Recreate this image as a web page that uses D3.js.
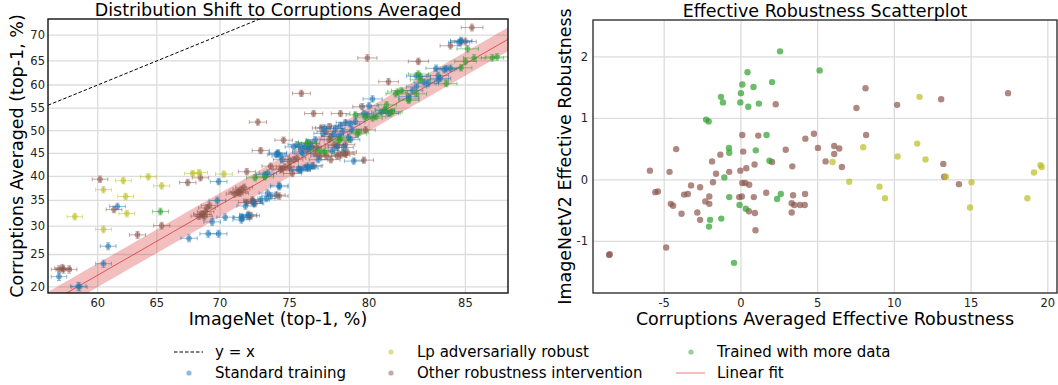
<!DOCTYPE html>
<html>
<head>
<meta charset="utf-8">
<script src="https://cdnjs.cloudflare.com/ajax/libs/d3/7.8.5/d3.min.js"></script>
<style>
  body { margin: 0; background: #fff; }
  svg { font-family: 'DejaVu Sans', sans-serif; }
</style>
</head>
<body>
<svg id="chart" width="1058" height="385"></svg>
<script>
// ---- left panel: [ImageNet top-1 %, Corruptions averaged top-1 %]
const standardTraining = [
  [56.6, 21.5], [58.3, 20.1], [58.4, 20.0], [60.5, 23.5], [60.9, 26.4], [61.7, 33.8],
  [67.6, 27.8], [69.1, 28.6], [69.9, 28.6], [69.4, 30.8], [69.8, 35.0], [69.9, 38.9],
  [70.4, 31.7], [71.6, 31.7], [71.7, 31.6], [71.6, 31.2], [71.9, 33.9], [72.1, 32.2],
  [72.5, 34.4], [73.0, 35.1], [73.5, 36.5], [73.4, 35.4], [73.7, 35.9], [74.3, 37.8],
  [73.5, 40.7], [73.3, 40.4], [74.2, 44.9], [74.5, 43.6], [74.3, 38.1],
  [75.5, 46.9], [75.8, 45.3], [75.9, 45.0], [75.6, 41.4], [75.8, 41.4], [76.1, 41.8],
  [76.3, 41.8], [76.5, 42.2], [76.2, 42.2], [75.7, 41.4],
  [77.3, 50.6], [77.2, 49.4], [76.7, 48.0], [76.4, 47.2], [76.3, 46.1], [76.0, 46.4],
  [75.7, 46.6], [75.3, 46.4], [74.2, 45.1], [74.1, 44.7], [74.4, 44.4], [76.9, 43.6],
  [79.1, 43.3], [78.1, 46.3], [78.5, 46.3], [77.8, 45.5], [78.8, 48.5], [78.9, 48.0],
  [78.0, 50.5], [78.3, 51.2], [78.6, 51.8], [78.9, 51.5], [79.2, 52.0], [78.4, 49.8],
  [77.9, 49.2], [79.0, 50.2], [78.2, 48.8],
  [79.7, 53.8], [79.9, 53.5], [80.2, 57.0], [80.0, 55.5], [80.7, 54.1], [80.9, 54.5],
  [81.1, 53.8], [82.6, 59.6], [82.4, 58.8], [82.2, 57.0], [82.2, 57.5], [82.6, 61.9],
  [82.8, 61.8], [83.0, 60.6], [83.2, 60.3], [83.6, 63.5], [83.7, 62.0], [83.8, 61.4],
  [83.7, 61.1], [84.3, 63.5], [84.1, 63.4], [84.0, 63.2], [84.8, 69.0], [84.7, 68.6]
];
const lpAdversarial = [
  [58.0, 31.8], [60.5, 37.2], [60.5, 29.4], [62.2, 39.1], [62.4, 35.8], [62.5, 32.4],
  [64.3, 39.9], [65.4, 38.0], [67.9, 40.6], [68.4, 40.8], [70.3, 40.5]
];
const otherIntervention = [
  [56.6, 22.6], [57.0, 22.6], [57.5, 22.6], [56.9, 22.8], [60.2, 39.4], [61.4, 33.2],
  [63.4, 28.4], [65.4, 30.1], [67.5, 38.7], [68.5, 39.7],
  [68.7, 32.2], [68.4, 31.9], [68.9, 32.8], [68.6, 32.3], [69.2, 34.0], [68.8, 31.8],
  [69.0, 33.5], [71.3, 36.6], [71.1, 36.3], [71.4, 36.8], [71.6, 37.3], [71.8, 37.7],
  [71.5, 36.5], [72.0, 41.0], [72.4, 34.8], [72.0, 34.6], [72.5, 34.8], [72.6, 34.4],
  [72.4, 35.1], [72.1, 31.9], [72.3, 32.0],
  [72.8, 51.9], [73.0, 45.6], [73.7, 42.2], [74.4, 41.4], [75.0, 42.0], [75.3, 43.6],
  [75.5, 44.0], [75.2, 40.6], [74.1, 36.1], [74.3, 35.9], [74.6, 47.9],
  [75.0, 43.2], [74.7, 42.0], [74.5, 41.6], [75.8, 58.2], [76.6, 53.8], [76.6, 42.3],
  [77.6, 50.9], [77.1, 50.6], [77.4, 49.8], [77.7, 48.7], [77.6, 48.0], [76.5, 46.4],
  [76.8, 46.4], [76.2, 45.8], [76.7, 44.9], [77.0, 44.4], [77.4, 44.4], [77.7, 43.6],
  [78.1, 44.4], [78.5, 45.1], [78.7, 45.3], [77.9, 46.9], [78.1, 46.7], [78.6, 46.9],
  [78.3, 44.6], [78.6, 44.8], [79.7, 43.5],
  [78.3, 53.8], [79.6, 55.3], [79.8, 50.2], [79.9, 65.6], [81.1, 60.7], [82.7, 64.9],
  [84.3, 68.0], [85.0, 68.8], [84.8, 68.8], [85.3, 71.4]
];
const moreData = [
  [65.3, 32.8], [72.6, 39.7], [73.3, 39.9], [76.2, 47.4], [77.0, 45.6], [78.2, 47.8],
  [76.2, 47.2], [77.3, 45.3], [78.3, 48.2], [79.4, 49.7], [79.3, 49.3], [80.4, 53.1],
  [80.2, 52.8], [79.2, 53.5], [79.8, 53.0], [81.0, 55.7], [81.2, 53.9], [81.3, 54.2],
  [80.9, 54.6], [81.8, 58.8], [81.6, 58.5], [81.5, 58.1], [82.2, 56.7], [82.6, 58.1],
  [82.8, 61.1], [82.7, 62.3], [84.1, 60.3], [84.8, 63.6], [85.0, 64.9], [85.4, 65.6],
  [86.4, 65.8], [86.2, 65.6], [85.1, 67.4]
];
// linear fit in logit space: logit(y) = slope * logit(x) + intercept
const fitSlope = 1.4113;
const fitIntercept = -1.8545;
const fitBand = 0.105;      // half-width of shaded band, logit units
const ciSamples = 20000;    // sample count used for the binomial error bars

const leftXTicks = [60, 65, 70, 75, 80, 85];
const leftYTicks = [20, 25, 30, 35, 40, 45, 50, 55, 60, 65, 70];

// ---- right panel: [Corruptions averaged eff. robustness, ImageNetV2 eff. robustness]
const erMoreData = [
  [2.55, 2.09], [5.13, 1.78], [0.43, 1.75], [2.03, 1.59], [0.09, 1.55], [0.82, 1.51],
  [0.0, 1.41], [-1.30, 1.35], [-1.17, 1.26], [-0.04, 1.26], [0.48, 1.19], [1.17, 1.24],
  [-2.27, 0.98], [-2.10, 0.95], [1.67, 0.73], [-0.78, 0.52], [-0.76, 0.44], [0.97, 0.48],
  [1.86, 0.31], [-1.08, 0.04], [2.60, -0.23], [2.36, -0.31], [-0.76, -0.28], [-0.09, -0.41],
  [0.32, -0.47], [-1.28, -0.63], [-2.01, -0.65], [-2.08, -0.76], [-0.45, -1.35]
];
const erOther = [
  [2.27, 1.23], [8.12, 1.49], [7.53, 1.17], [8.16, 0.73], [0.09, 0.73], [1.13, 0.72],
  [4.76, 0.75], [4.20, 0.67], [5.02, 0.52], [6.08, 0.55], [6.41, 0.51], [6.08, 0.42],
  [5.52, 0.30], [6.58, 0.21], [2.92, 0.49], [-4.22, 0.50], [-1.34, 0.41], [0.15, 0.46],
  [-1.88, 0.30], [0.89, 0.25], [0.35, 0.19], [-0.04, 0.15], [-0.76, 0.13], [-1.62, 0.10],
  [2.03, 0.29], [3.35, 0.22], [-5.93, 0.15], [-4.65, 0.13], [-1.82, -0.04], [0.09, -0.05],
  [0.28, -0.05], [0.54, -0.08], [-3.25, -0.09], [-2.66, -0.12], [-5.58, -0.20], [-5.41, -0.19],
  [-3.70, -0.24], [-3.46, -0.23], [-2.06, -0.27], [-2.32, -0.35], [-2.06, -0.39], [-0.11, -0.28],
  [0.06, -0.27], [0.84, -0.28], [1.65, -0.21], [3.40, -0.25], [4.18, -0.23], [3.31, -0.38],
  [3.48, -0.41], [3.85, -0.41], [4.16, -0.41], [3.31, -0.53], [-4.57, -0.39], [-4.42, -0.42],
  [-3.87, -0.55], [-2.84, -0.53], [-2.66, -0.65], [0.52, -0.51], [0.91, -0.54], [0.95, -0.82],
  [-4.87, -1.10], [-8.59, -1.22], [-8.55, -1.21],
  [10.18, 1.22], [13.05, 1.31], [17.41, 1.41], [13.19, 0.26], [13.25, 0.05], [14.21, -0.07]
];
const erLp = [
  [7.97, 0.53], [5.97, 0.29], [7.06, -0.03], [9.03, -0.11], [9.39, -0.30],
  [11.64, 1.35], [11.49, 0.59], [10.21, 0.38], [12.03, 0.33], [13.36, 0.05], [15.03, -0.04],
  [19.52, 0.24], [19.60, 0.21], [19.10, 0.12], [18.67, -0.30], [14.93, -0.45]
];
const rightXTicks = [-5, 0, 5, 10, 15, 20];
const rightYTicks = [-1, 0, 1, 2];

const colors = {
  standard: '#1f77b4',
  lp: '#bcbd22',
  other: '#8c564b',
  more: '#2ca02c',
  fit: '#d62728'
};

const legendItems = [
  { label: 'y = x', kind: 'dash' },
  { label: 'Standard training', kind: 'dot', color: colors.standard },
  { label: 'Lp adversarially robust', kind: 'dot', color: colors.lp },
  { label: 'Other robustness intervention', kind: 'dot', color: colors.other },
  { label: 'Trained with more data', kind: 'dot', color: colors.more },
  { label: 'Linear fit', kind: 'line', color: colors.fit }
];

const logit = (p) => Math.log(p / (1 - p));
const svg = d3.select('#chart');
const gridColor = '#dcdcdc';

// ================= left panel =================
const L = { left: 48, right: 508, top: 19, bottom: 293 };
const xL = d3.scaleLinear().domain([logit(0.5562), logit(0.8686)]).range([L.left, L.right]);
const yL = d3.scaleLinear().domain([logit(0.1915), logit(0.7293)]).range([L.bottom, L.top]);
const px = (v) => xL(logit(v / 100));
const py = (v) => yL(logit(v / 100));

svg.append('defs').append('clipPath').attr('id', 'clipL')
  .append('rect').attr('x', L.left).attr('y', L.top)
  .attr('width', L.right - L.left).attr('height', L.bottom - L.top);

const gL = svg.append('g');
gL.append('g').selectAll('line').data(leftXTicks).enter().append('line')
  .attr('x1', (d) => px(d)).attr('x2', (d) => px(d))
  .attr('y1', L.top).attr('y2', L.bottom)
  .attr('stroke', gridColor).attr('stroke-width', 1.3);
gL.append('g').selectAll('line').data(leftYTicks).enter().append('line')
  .attr('y1', (d) => py(d)).attr('y2', (d) => py(d))
  .attr('x1', L.left).attr('x2', L.right)
  .attr('stroke', gridColor).attr('stroke-width', 1.3);

const plotL = gL.append('g').attr('clip-path', 'url(#clipL)');

// y = x
const lx = xL.domain();
plotL.append('line')
  .attr('x1', xL(lx[0])).attr('y1', yL(lx[0]))
  .attr('x2', xL(lx[1])).attr('y2', yL(lx[1]))
  .attr('stroke', '#000').attr('stroke-width', 1).attr('stroke-dasharray', '3.5,2');

// fit band + line
const fitX = d3.range(0, 41).map((i) => lx[0] + (lx[1] - lx[0]) * i / 40);
plotL.append('path')
  .datum(fitX)
  .attr('d', d3.area()
    .x((d) => xL(d))
    .y0((d) => yL(fitSlope * d + fitIntercept - fitBand))
    .y1((d) => yL(fitSlope * d + fitIntercept + fitBand)))
  .attr('fill', colors.fit).attr('fill-opacity', 0.3);
plotL.append('line')
  .attr('x1', xL(lx[0])).attr('y1', yL(fitSlope * lx[0] + fitIntercept))
  .attr('x2', xL(lx[1])).attr('y2', yL(fitSlope * lx[1] + fitIntercept))
  .attr('stroke', colors.fit).attr('stroke-width', 1).attr('stroke-opacity', 0.7);

function ci(p) {
  // binomial 95% interval, returned in percent
  const q = p / 100;
  const h = 1.96 * Math.sqrt(q * (1 - q) / ciSamples);
  return [100 * (q - h), 100 * (q + h)];
}

function drawErrorPoints(data, color) {
  const g = plotL.append('g');
  const pts = g.selectAll('g').data(data).enter().append('g');
  const cap = 2;
  pts.each(function (d) {
    const s = d3.select(this);
    const [x0, x1] = ci(d[0]);
    const [y0, y1] = ci(d[1]);
    const cx = px(d[0]), cy = py(d[1]);
    const eb = s.append('g').attr('stroke', color).attr('stroke-opacity', 0.5).attr('stroke-width', 1);
    eb.append('line').attr('x1', px(x0)).attr('x2', px(x1)).attr('y1', cy).attr('y2', cy);
    eb.append('line').attr('x1', px(x0)).attr('x2', px(x0)).attr('y1', cy - cap).attr('y2', cy + cap);
    eb.append('line').attr('x1', px(x1)).attr('x2', px(x1)).attr('y1', cy - cap).attr('y2', cy + cap);
    eb.append('line').attr('x1', cx).attr('x2', cx).attr('y1', py(y0)).attr('y2', py(y1));
    eb.append('line').attr('x1', cx - cap).attr('x2', cx + cap).attr('y1', py(y0)).attr('y2', py(y0));
    eb.append('line').attr('x1', cx - cap).attr('x2', cx + cap).attr('y1', py(y1)).attr('y2', py(y1));
    s.append('circle').attr('cx', cx).attr('cy', cy).attr('r', 2.8)
      .attr('fill', color).attr('fill-opacity', 0.6);
  });
}
drawErrorPoints(otherIntervention, colors.other);
drawErrorPoints(lpAdversarial, colors.lp);
drawErrorPoints(standardTraining, colors.standard);
drawErrorPoints(moreData, colors.more);

gL.append('rect').attr('x', L.left).attr('y', L.top)
  .attr('width', L.right - L.left).attr('height', L.bottom - L.top)
  .attr('fill', 'none').attr('stroke', '#111').attr('stroke-width', 1.4);

gL.append('g').selectAll('text').data(leftXTicks).enter().append('text')
  .attr('x', (d) => px(d)).attr('y', L.bottom + 14)
  .attr('text-anchor', 'middle').attr('font-size', 11.5).attr('fill', '#222')
  .text((d) => d);
gL.append('g').selectAll('text').data(leftYTicks).enter().append('text')
  .attr('x', L.left - 3).attr('y', (d) => py(d) + 4)
  .attr('text-anchor', 'end').attr('font-size', 11.5).attr('fill', '#222')
  .text((d) => d);

gL.append('text').attr('x', (L.left + L.right) / 2).attr('y', 15.5)
  .attr('text-anchor', 'middle').attr('font-size', 17.5)
  .text('Distribution Shift to Corruptions Averaged');
gL.append('text').attr('x', (L.left + L.right) / 2).attr('y', 325)
  .attr('text-anchor', 'middle').attr('font-size', 17.5)
  .text('ImageNet (top-1, %)');
gL.append('text').attr('transform', `translate(23, ${(L.top + L.bottom) / 2}) rotate(-90)`)
  .attr('text-anchor', 'middle').attr('font-size', 17.5)
  .text('Corruptions Averaged (top-1, %)');

// ================= right panel =================
const R = { left: 593, right: 1057, top: 20, bottom: 293 };
const xR = d3.scaleLinear().domain([-9.64, 20.6]).range([R.left, R.right]);
const yR = d3.scaleLinear().domain([-1.84, 2.6]).range([R.bottom, R.top]);

const gR = svg.append('g');
gR.append('g').selectAll('line').data(rightXTicks).enter().append('line')
  .attr('x1', (d) => xR(d)).attr('x2', (d) => xR(d))
  .attr('y1', R.top).attr('y2', R.bottom)
  .attr('stroke', gridColor).attr('stroke-width', 1.3);
gR.append('g').selectAll('line').data(rightYTicks).enter().append('line')
  .attr('y1', (d) => yR(d)).attr('y2', (d) => yR(d))
  .attr('x1', R.left).attr('x2', R.right)
  .attr('stroke', gridColor).attr('stroke-width', 1.3);

function drawDots(data, color) {
  gR.append('g').selectAll('circle').data(data).enter().append('circle')
    .attr('cx', (d) => xR(d[0])).attr('cy', (d) => yR(d[1])).attr('r', 3.2)
    .attr('fill', color).attr('fill-opacity', 0.7);
}
drawDots(erOther, colors.other);
drawDots(erLp, colors.lp);
drawDots(erMoreData, colors.more);

gR.append('rect').attr('x', R.left).attr('y', R.top)
  .attr('width', R.right - R.left).attr('height', R.bottom - R.top)
  .attr('fill', 'none').attr('stroke', '#222').attr('stroke-width', 1.3);

gR.append('g').selectAll('text').data(rightXTicks).enter().append('text')
  .attr('x', (d) => xR(d)).attr('y', R.bottom + 14)
  .attr('text-anchor', 'middle').attr('font-size', 11.5).attr('fill', '#222')
  .text((d) => d);
gR.append('g').selectAll('text').data(rightYTicks).enter().append('text')
  .attr('x', R.left - 5).attr('y', (d) => yR(d) + 4)
  .attr('text-anchor', 'end').attr('font-size', 11.5).attr('fill', '#222')
  .text((d) => d);

gR.append('text').attr('x', (R.left + R.right) / 2).attr('y', 16.5)
  .attr('text-anchor', 'middle').attr('font-size', 17.5)
  .text('Effective Robustness Scatterplot');
gR.append('text').attr('x', (R.left + R.right) / 2).attr('y', 325)
  .attr('text-anchor', 'middle').attr('font-size', 17.5)
  .text('Corruptions Averaged Effective Robustness');
gR.append('text').attr('transform', `translate(571, ${(R.top + R.bottom) / 2}) rotate(-90)`)
  .attr('text-anchor', 'middle').attr('font-size', 17.5)
  .text('ImageNetV2 Effective Robustness');

// ================= legend =================
const legend = svg.append('g').attr('font-size', 15);
const colX = [174, 376, 676];
const rowY = [352, 373];
legendItems.forEach((item, i) => {
  const g = legend.append('g')
    .attr('transform', `translate(${colX[Math.floor(i / 2)]}, ${rowY[i % 2]})`);
  if (item.kind === 'dash') {
    g.append('line').attr('x1', 0).attr('x2', 29).attr('y1', 0).attr('y2', 0)
      .attr('stroke', '#000').attr('stroke-width', 1).attr('stroke-dasharray', '3.5,2');
  } else if (item.kind === 'line') {
    g.append('line').attr('x1', 0).attr('x2', 29).attr('y1', 0).attr('y2', 0)
      .attr('stroke', item.color).attr('stroke-opacity', 0.5).attr('stroke-width', 1.2);
  } else {
    g.append('circle').attr('cx', 15).attr('cy', 0).attr('r', 2.6)
      .attr('fill', item.color).attr('fill-opacity', 0.5);
  }
  g.append('text').attr('x', 41).attr('y', 5).text(item.label);
});
</script>
</body>
</html>
